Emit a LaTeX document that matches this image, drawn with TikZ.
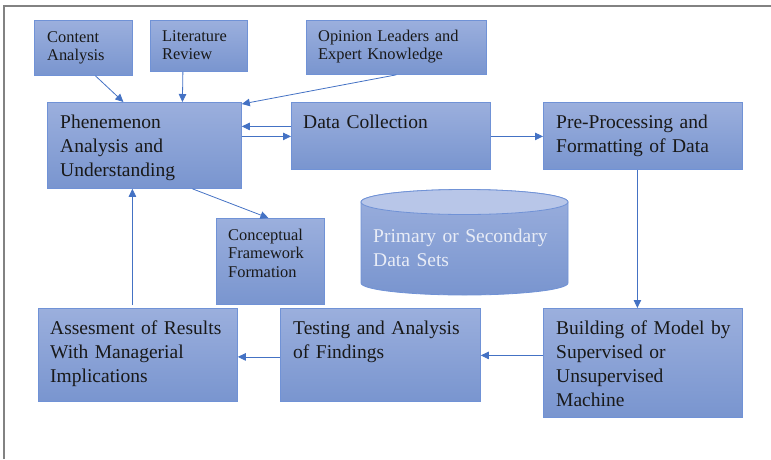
\documentclass[tikz,border=0pt]{standalone}
\usepackage{fontspec}
\setmainfont{Liberation Serif}
\usetikzlibrary{arrows.meta}
\definecolor{boxtop}{RGB}{155,175,221}
\definecolor{boxbot}{RGB}{121,149,207}
\definecolor{boxline}{RGB}{112,146,214}
\definecolor{arrowblue}{RGB}{68,114,196}
\definecolor{cyltop}{RGB}{184,198,232}
\definecolor{framegray}{RGB}{130,130,130}
\definecolor{txt}{RGB}{25,25,25}
\definecolor{cyltxt}{RGB}{232,236,246}
\tikzset{
  box/.style={draw=boxline, line width=0.8pt, top color=boxtop, bottom color=boxbot,
              anchor=north west, inner sep=0pt},
  bigtxt/.style={font=\fontsize{19.5}{24.3}\selectfont, text=txt, anchor=base west,
                 align=left, inner sep=0pt, text width=190pt},
  smalltxt/.style={font=\fontsize{16.4}{18.7}\selectfont, text=txt, anchor=base west,
                   align=left, inner sep=0pt, text width=170pt},
  arr/.style={draw=arrowblue, line width=0.8pt,
              -{Triangle[length=8pt,width=7.5pt]}, color=arrowblue},
}
\begin{document}
\begin{tikzpicture}[x=1pt,y=1pt]
\useasboundingbox (0,0) rectangle (771,-459);
% page frame
\draw[framegray, line width=1.2pt] (4,-459) -- (4,-6) -- (771,-6);

% boxes
\node[box, minimum width=98pt,  minimum height=55pt]  (ca) at (34,-20)  {};
\node[box, minimum width=97pt,  minimum height=51pt]  (lr) at (150,-20) {};
\node[box, minimum width=180pt, minimum height=54pt]  (ol) at (306,-20) {};
\node[box, minimum width=194pt, minimum height=86pt]  (ph) at (47,-102) {};
\node[box, minimum width=199pt, minimum height=67pt]  (dc) at (291,-102) {};
\node[box, minimum width=199pt, minimum height=67pt]  (pp) at (543,-102) {};
\node[box, minimum width=108pt, minimum height=86pt]  (cf) at (216,-218) {};
\node[box, minimum width=199pt, minimum height=93pt]  (as) at (38,-308) {};
\node[box, minimum width=200pt, minimum height=93pt]  (ta) at (280,-308) {};
\node[box, minimum width=199pt, minimum height=109pt] (bm) at (543,-308) {};

% data store cylinder
\path[draw=boxline, line width=0.8pt, top color=boxtop, bottom color=boxbot]
  (361,-202) -- (361,-283) arc[start angle=180, end angle=360, x radius=103.5, y radius=12]
  -- (568,-202) arc[start angle=0, end angle=180, x radius=103.5, y radius=12.5] -- cycle;
\path[draw=boxline, line width=0.8pt, fill=cyltop]
  (464.5,-202) ellipse[x radius=103.5, y radius=12.5];
\node[bigtxt, text=cyltxt] (ds) at (373,-242) {Primary or Secondary\\Data Sets};

% labels
\node[smalltxt] (tca) at (47,-42)  {Content\\Analysis};
\node[smalltxt] (tlr) at (162,-41) {Literature\\Review};
\node[smalltxt] (tol) at (318,-41) {Opinion Leaders and\\Expert Knowledge};
\node[bigtxt]   (tph) at (60,-128) {Phenemenon\\Analysis and\\Understanding};
\node[bigtxt]   (tdc) at (303,-128) {Data Collection};
\node[bigtxt]   (tpp) at (556,-128) {Pre-Processing and\\Formatting of Data};
\node[smalltxt] (tcf) at (228,-240) {Conceptual\\Framework\\Formation};
\node[bigtxt]   (tas) at (50,-334) {Assesment of Results\\With Managerial\\Implications};
\node[bigtxt]   (tta) at (293,-334) {Testing and Analysis\\of Findings};
\node[bigtxt]   (tbm) at (556,-334) {Building of Model by\\Supervised or\\Unsupervised\\Machine};

% connectors
\draw[arr] ([xshift=12pt]ca.south) -- ([xshift=-21pt]ph.north);
\draw[arr] ([xshift=-16pt]lr.south) -- ([xshift=38pt]ph.north);
\draw[arr] (ol.south) -- ([yshift=-2pt]ph.north east);
\draw[arr] ([yshift=9.5pt]dc.west) -- ([yshift=9.5pt]dc.west -| ph.east);
\draw[arr] ([yshift=-0.5pt]dc.west -| ph.east) -- ([yshift=-0.5pt]dc.west);
\draw[arr] ([yshift=-0.5pt]dc.east) -- ([yshift=-0.5pt]pp.west);
\draw[arr] ([xshift=-5.5pt]pp.south) -- ([xshift=-5.5pt]pp.south |- bm.north);
\draw[arr] ([yshift=7.5pt]bm.west) -- ([yshift=7.5pt]bm.west -| ta.east);
\draw[arr] ([yshift=-2pt]ta.west) -- ([yshift=-2pt]ta.west -| as.east);
\draw[arr, shorten <=3pt] ([xshift=-12pt]as.north -| ph.south) -- ([xshift=-12pt]ph.south);
\draw[arr] ([xshift=48pt]ph.south) -- ([xshift=-2pt]cf.north);
\end{tikzpicture}
\end{document}
